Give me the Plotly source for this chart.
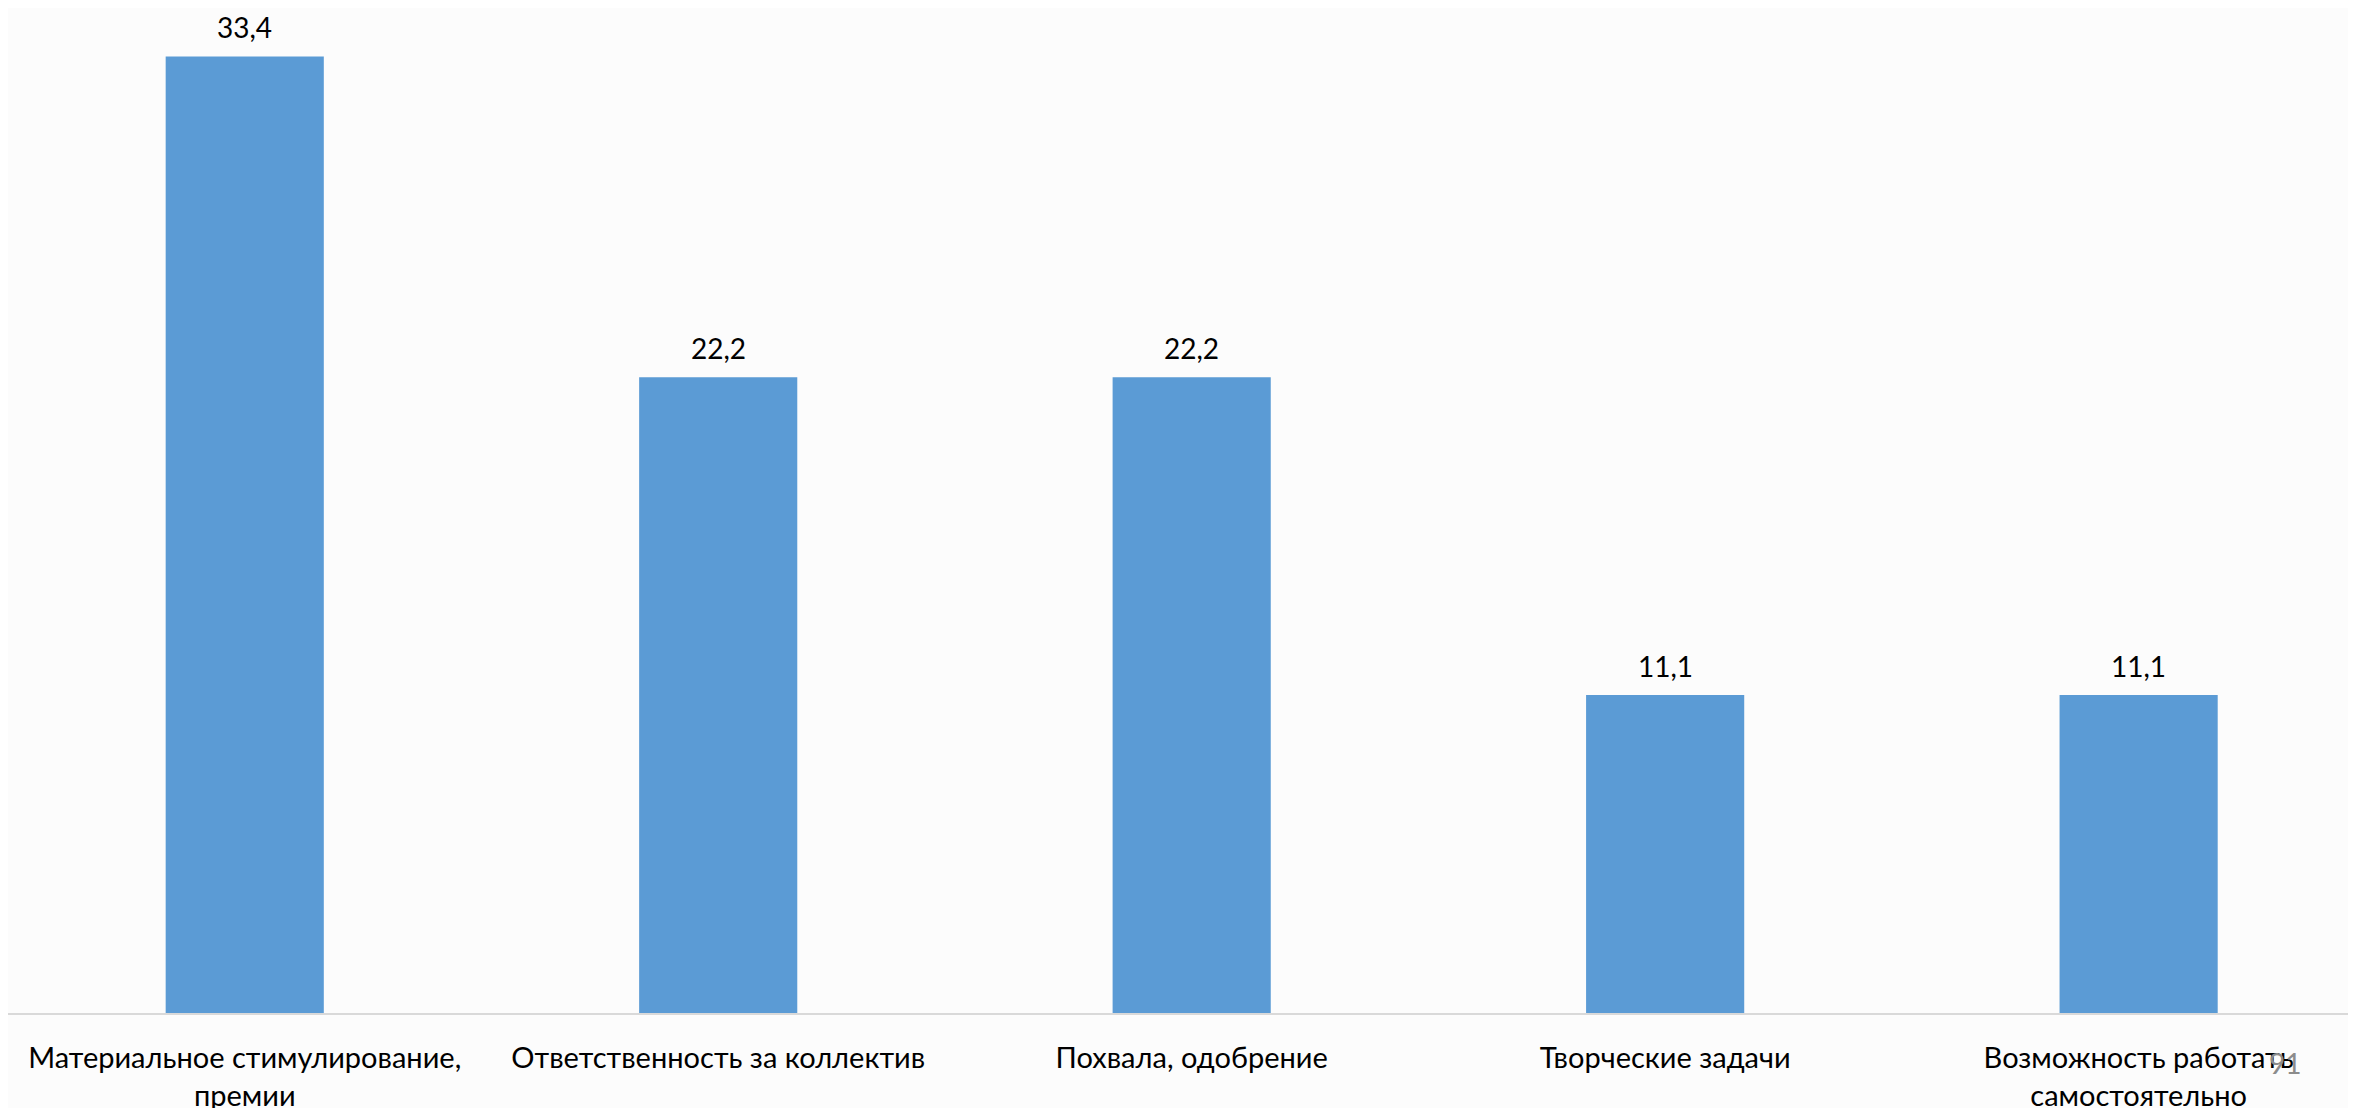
import plotly.graph_objects as go

categories = [
    "Материальное стимулирование,<br>премии",
    "Ответственность за коллектив",
    "Похвала, одобрение",
    "Творческие задачи",
    "Возможность работать<br>самостоятельно",
]
values = [33.4, 22.2, 22.2, 11.1, 11.1]
value_labels = ["33,4", "22,2", "22,2", "11,1", "11,1"]
page_number = "91"

FONT = "Lato"
W, H = 2356, 1108
ML, MR, MT, MB = 0, 0, 0, 103

fig = go.Figure(
    go.Bar(
        x=categories,
        y=values,
        marker=dict(color="#5B9BD5", line=dict(width=0)),
        width=0.334,
        cliponaxis=False,
        hoverinfo="x+y",
    )
)

for cat, val, lab in zip(categories, values, value_labels):
    fig.add_annotation(
        x=cat, y=val, xref="x", yref="y",
        text=lab, showarrow=False,
        xanchor="center", yanchor="bottom",
        yshift=11, borderpad=0,
        font=dict(family=FONT, size=28, color="#000000"),
    )

fig.update_layout(
    width=W,
    height=H,
    paper_bgcolor="#FCFCFC",
    plot_bgcolor="#FCFCFC",
    margin=dict(l=ML, r=MR, t=MT, b=MB, autoexpand=False),
    showlegend=False,
)
fig.update_xaxes(
    type="category",
    range=[-0.5, 4.476],
    automargin=False,
    showline=True,
    linecolor="#D9D9D9",
    linewidth=2,
    showgrid=False,
    zeroline=False,
    ticks="outside",
    ticklen=18,
    tickcolor="rgba(0,0,0,0)",
    tickfont=dict(family=FONT, size=29, color="#000000"),
    tickangle=0,
)
fig.update_yaxes(
    range=[0, 35.09],
    automargin=False,
    visible=False,
    showgrid=False,
    zeroline=False,
)
plot_h = H - MB - MT
fig.add_annotation(
    text=page_number,
    xref="paper", yref="paper",
    x=(2277 - ML) / (W - ML - MR),
    y=-(1055 - (H - MB)) / plot_h,
    xanchor="center", yanchor="middle",
    showarrow=False,
    font=dict(family=FONT, size=28, color="#8C8C8C"),
)

fig.write_html("out.html")
